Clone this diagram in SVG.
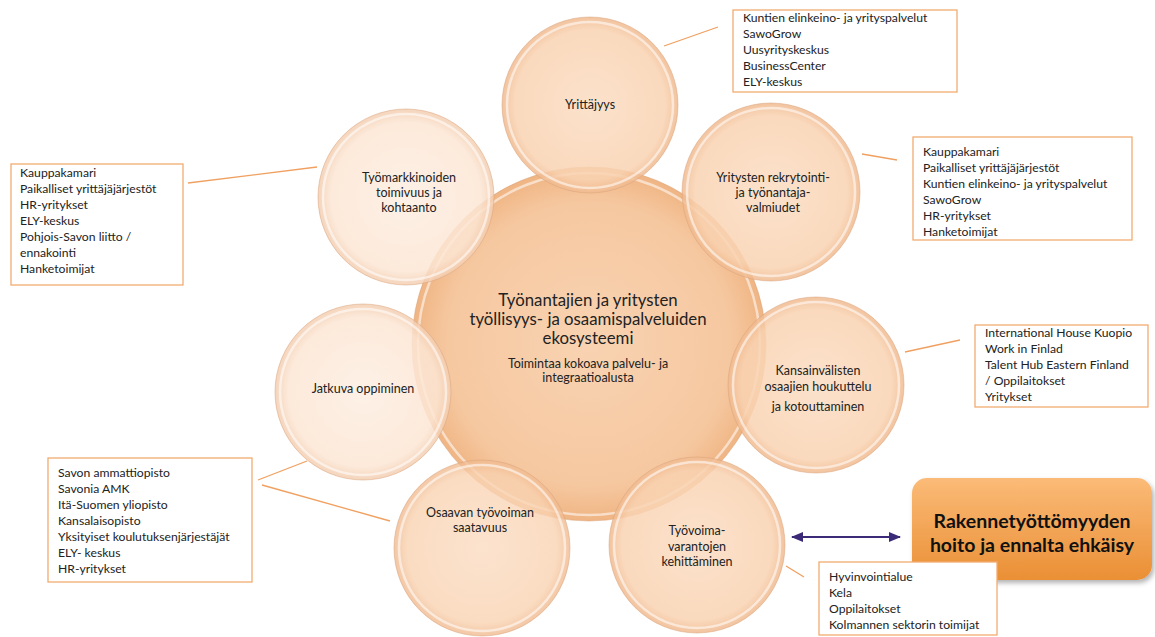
<svg xmlns="http://www.w3.org/2000/svg" width="1155" height="637" viewBox="0 0 1155 637">
<style>
.t{font-family:Lato,"Liberation Sans",sans-serif;font-size:12.2px;fill:#222}
.c{text-anchor:middle;font-size:12.5px}
.big{font-size:16.8px;text-anchor:middle;fill:#222;font-family:Lato,"Liberation Sans",sans-serif}
.box{fill:#fff;stroke:#f2ac70;stroke-width:1.3}
.conn{stroke:#f0a060;stroke-width:1.3;fill:none}
.hl{fill:none;stroke:#fff;stroke-opacity:0.55;stroke-width:2.5}
.rim{fill:none;stroke:#d9a27a;stroke-opacity:0.5;stroke-width:1}
</style>
<defs>
<radialGradient id="gC" cx="50%" cy="50%" r="50%">
<stop offset="0" stop-color="#f8cfab"/><stop offset="0.8" stop-color="#f5c398"/><stop offset="1" stop-color="#eeae78"/>
</radialGradient>
<radialGradient id="gA" cx="50%" cy="50%" r="50%">
<stop offset="0" stop-color="#fbdcc2"/><stop offset="0.85" stop-color="#f9d3b2"/><stop offset="1" stop-color="#f0b98e"/>
</radialGradient>
<radialGradient id="gL" cx="50%" cy="50%" r="50%">
<stop offset="0" stop-color="#fdeee2"/><stop offset="0.85" stop-color="#fce6d4"/><stop offset="1" stop-color="#f3cdb0"/>
</radialGradient>
<linearGradient id="gO" x1="0" y1="0" x2="0" y2="1">
<stop offset="0" stop-color="#fbbb78"/><stop offset="1" stop-color="#ea8f35"/>
</linearGradient>
<filter id="sh" x="-10%" y="-10%" width="130%" height="140%">
<feDropShadow dx="2" dy="3" stdDeviation="2.5" flood-color="#000" flood-opacity="0.3"/>
</filter>
<marker id="ah" viewBox="0 0 10 10" refX="9" refY="5" markerWidth="7" markerHeight="7" orient="auto-start-reverse">
<path d="M0,1 L10,5 L0,9 z" fill="#3a2a78"/>
</marker>
</defs>

<g id="center">
<circle cx="589" cy="344" r="177" fill="url(#gC)" opacity="0.92"/>
<circle cx="589" cy="344" r="171" class="hl"/>
<circle cx="589" cy="344" r="177" class="rim"/>
<text class="big" x="588" y="306">Työnantajien ja yritysten</text>
<text class="big" x="588" y="325">työllisyys- ja osaamispalveluiden</text>
<text class="big" x="588" y="344">ekosysteemi</text>
<text class="t c" x="588" y="368">Toimintaa kokoava palvelu- ja</text>
<text class="t c" x="588" y="382">integraatioalusta</text>
</g>

<g id="yrittajyys">
<circle cx="590" cy="105" r="88" fill="url(#gA)" opacity="0.85"/>
<circle cx="590" cy="105" r="83" class="hl"/>
<circle cx="590" cy="105" r="88" class="rim"/>
<text class="t c" x="590" y="109">Yrittäjyys</text>
</g>

<g id="rekrytointi">
<circle cx="771" cy="192" r="89" fill="url(#gA)" opacity="0.85"/>
<circle cx="771" cy="192" r="84" class="hl"/>
<circle cx="771" cy="192" r="89" class="rim"/>
<text class="t c" x="773" y="182">Yritysten rekrytointi-</text>
<text class="t c" x="773" y="197">ja työnantaja-</text>
<text class="t c" x="773" y="212">valmiudet</text>
</g>

<g id="kansainvaliset">
<circle cx="816" cy="385" r="88" fill="url(#gA)" opacity="0.85"/>
<circle cx="816" cy="385" r="83" class="hl"/>
<circle cx="816" cy="385" r="88" class="rim"/>
<text class="t c" x="818" y="375">Kansainvälisten</text>
<text class="t c" x="818" y="391">osaajien houkuttelu</text>
<text class="t c" x="818" y="411">ja kotouttaminen</text>
</g>

<g id="tyovoimavarannot">
<circle cx="697" cy="545" r="88" fill="url(#gA)" opacity="0.85"/>
<circle cx="697" cy="545" r="83" class="hl"/>
<circle cx="697" cy="545" r="88" class="rim"/>
<text class="t c" x="697" y="535">Työvoima-</text>
<text class="t c" x="697" y="551">varantojen</text>
<text class="t c" x="697" y="566">kehittäminen</text>
</g>

<g id="osaavan">
<circle cx="482" cy="548" r="88" fill="url(#gA)" opacity="0.8"/>
<circle cx="482" cy="548" r="83" class="hl"/>
<circle cx="482" cy="548" r="88" class="rim"/>
<text class="t c" x="480" y="517">Osaavan työvoiman</text>
<text class="t c" x="480" y="532">saatavuus</text>
</g>

<g id="jatkuva">
<circle cx="363" cy="392" r="88" fill="url(#gL)" opacity="0.85"/>
<circle cx="363" cy="392" r="83" class="hl"/>
<circle cx="363" cy="392" r="88" class="rim"/>
<text class="t c" x="363" y="393">Jatkuva oppiminen</text>
</g>

<g id="tyomarkkinat">
<circle cx="406" cy="197" r="88" fill="url(#gL)" opacity="0.85"/>
<circle cx="406" cy="197" r="83" class="hl"/>
<circle cx="406" cy="197" r="88" class="rim"/>
<text class="t c" x="409" y="182">Työmarkkinoiden</text>
<text class="t c" x="409" y="197">toimivuus ja</text>
<text class="t c" x="409" y="212">kohtaanto</text>
</g>

<g id="connectors">
<line class="conn" x1="664" y1="46" x2="718" y2="27"/>
<line class="conn" x1="862" y1="154" x2="897" y2="160"/>
<line class="conn" x1="188" y1="183" x2="317" y2="167"/>
<line class="conn" x1="905" y1="352" x2="960" y2="340"/>
<line class="conn" x1="258" y1="480" x2="307" y2="461"/>
<line class="conn" x1="262" y1="485" x2="390" y2="521"/>
<line class="conn" x1="786" y1="566" x2="804" y2="577"/>
<line x1="792" y1="537" x2="900" y2="537" stroke="#3a2a78" stroke-width="1.8" marker-start="url(#ah)" marker-end="url(#ah)"/>
</g>

<g id="box-yrittajyys">
<rect class="box" x="733" y="10" width="224" height="82"/>
<text class="t" x="743" y="22">Kuntien elinkeino- ja yrityspalvelut</text>
<text class="t" x="743" y="38">SawoGrow</text>
<text class="t" x="743" y="54">Uusyrityskeskus</text>
<text class="t" x="743" y="70">BusinessCenter</text>
<text class="t" x="743" y="86">ELY-keskus</text>
</g>

<g id="box-rekrytointi">
<rect class="box" x="913" y="137" width="219" height="103"/>
<text class="t" x="923" y="156">Kauppakamari</text>
<text class="t" x="923" y="172">Paikalliset yrittäjäjärjestöt</text>
<text class="t" x="923" y="188">Kuntien elinkeino- ja yrityspalvelut</text>
<text class="t" x="923" y="204">SawoGrow</text>
<text class="t" x="923" y="220">HR-yritykset</text>
<text class="t" x="923" y="236">Hanketoimijat</text>
</g>

<g id="box-tyomarkkinat">
<rect class="box" x="11" y="164" width="172" height="121"/>
<text class="t" x="20" y="177">Kauppakamari</text>
<text class="t" x="20" y="193">Paikalliset yrittäjäjärjestöt</text>
<text class="t" x="20" y="209">HR-yritykset</text>
<text class="t" x="20" y="225">ELY-keskus</text>
<text class="t" x="20" y="241">Pohjois-Savon liitto /</text>
<text class="t" x="20" y="257">ennakointi</text>
<text class="t" x="20" y="273">Hanketoimijat</text>
</g>

<g id="box-kansainvaliset">
<rect class="box" x="975" y="325" width="173" height="82"/>
<text class="t" x="985" y="337">International House Kuopio</text>
<text class="t" x="985" y="353">Work in Finlad</text>
<text class="t" x="985" y="369">Talent Hub Eastern Finland</text>
<text class="t" x="985" y="385">/ Oppilaitokset</text>
<text class="t" x="985" y="401">Yritykset</text>
</g>

<g id="box-osaaminen">
<rect class="box" x="48" y="458" width="204" height="124"/>
<text class="t" x="58" y="477">Savon ammattiopisto</text>
<text class="t" x="58" y="493">Savonia AMK</text>
<text class="t" x="58" y="509">Itä-Suomen yliopisto</text>
<text class="t" x="58" y="525">Kansalaisopisto</text>
<text class="t" x="58" y="541">Yksityiset koulutuksenjärjestäjät</text>
<text class="t" x="58" y="557">ELY- keskus</text>
<text class="t" x="58" y="573">HR-yritykset</text>
</g>

<g id="rakennetyottomyys">
<rect x="912" y="478" width="240" height="102" rx="15" fill="url(#gO)" filter="url(#sh)"/>
<text x="1032" y="528" text-anchor="middle" font-family="Lato,'Liberation Sans',sans-serif" font-weight="bold" font-size="19.5" fill="#111">Rakennetyöttömyyden</text>
<text x="1032" y="552" text-anchor="middle" font-family="Lato,'Liberation Sans',sans-serif" font-weight="bold" font-size="19.5" fill="#111">hoito ja ennalta ehkäisy</text>
</g>

<g id="box-tyovoima">
<rect class="box" x="819" y="562" width="178" height="73"/>
<text class="t" x="829" y="581">Hyvinvointialue</text>
<text class="t" x="829" y="597">Kela</text>
<text class="t" x="829" y="613">Oppilaitokset</text>
<text class="t" x="829" y="629">Kolmannen sektorin toimijat</text>
</g>
</svg>
